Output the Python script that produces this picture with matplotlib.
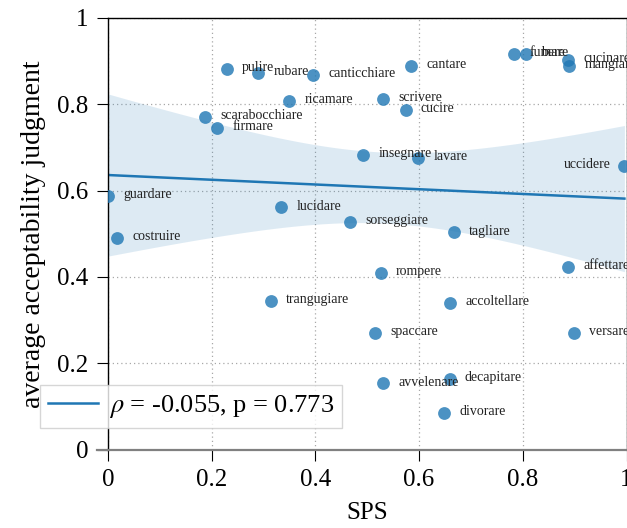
import numpy as np
import matplotlib.pyplot as plt

plt.rcParams['font.family'] = ['Liberation Serif', 'DejaVu Serif']
plt.rcParams['mathtext.fontset'] = 'stix'

# verbs, their SPS score and mean acceptability rating
verbs = ['pulire', 'rubare', 'canticchiare', 'ricamare', 'scarabocchiare',
         'firmare', 'guardare', 'lucidare', 'sorseggiare', 'insegnare',
         'cantare', 'fumare', 'bere', 'cucinare', 'mangiare', 'scrivere',
         'cucire', 'lavare', 'uccidere', 'costruire', 'trangugiare',
         'tagliare', 'rompere', 'affettare', 'accoltellare', 'spaccare',
         'versare', 'avvelenare', 'decapitare', 'divorare']
sps = [0.229, 0.290, 0.396, 0.349, 0.188,
       0.210, 0.000, 0.334, 0.467, 0.492,
       0.584, 0.783, 0.806, 0.887, 0.890, 0.530,
       0.574, 0.598, 0.996, 0.017, 0.314,
       0.667, 0.526, 0.887, 0.660, 0.515,
       0.899, 0.531, 0.659, 0.648]
judgment = [0.882, 0.873, 0.869, 0.807, 0.771,
            0.746, 0.587, 0.561, 0.527, 0.683,
            0.889, 0.917, 0.917, 0.903, 0.889, 0.813,
            0.787, 0.676, 0.658, 0.491, 0.345,
            0.503, 0.410, 0.423, 0.339, 0.271,
            0.271, 0.153, 0.163, 0.085]
left_labels = ['uccidere']

ticks = [0, 0.2, 0.4, 0.6, 0.8, 1]
tick_labels = ['0', '0.2', '0.4', '0.6', '0.8', '1']
stat_label = r'$\rho$ = -0.055, p = 0.773'

color = '#1f77b4'

x = np.array(sps)
y = np.array(judgment)

# least squares fit with confidence band around it
n = len(x)
slope, intercept = np.polyfit(x, y, 1)
xs = np.linspace(x.min(), x.max(), 100)
ys = intercept + slope * xs
resid = y - (intercept + slope * x)
s = np.sqrt(np.sum(resid ** 2) / (n - 2))
sxx = np.sum((x - x.mean()) ** 2)
se = s * np.sqrt(1 / n + (xs - x.mean()) ** 2 / sxx)
t_val = 1.7

fig = plt.figure(figsize=(6.27, 5.28), dpi=100)
ax = fig.add_axes([108 / 627, 78.5 / 528, 518.5 / 627, 431.5 / 528])

ax.fill_between(xs, ys - t_val * se, ys + t_val * se, color=color, alpha=0.15,
                lw=0, zorder=1)
ax.plot(xs, ys, color=color, lw=1.8, zorder=2, label=stat_label)
ax.scatter(x, y, s=85, color=color, alpha=0.8, lw=0, zorder=3)

for v, xi, yi in zip(verbs, x, y):
    if v in left_labels:
        ax.annotate(v, (xi, yi), xytext=(-10, 0.5), textcoords='offset points',
                    ha='right', va='center', fontsize=10, color='#222222',
                    annotation_clip=False, zorder=4)
    else:
        ax.annotate(v, (xi, yi), xytext=(11, 1), textcoords='offset points',
                    ha='left', va='center', fontsize=10, color='#222222',
                    annotation_clip=False, zorder=4)

ax.set_xlim(0, 1)
ax.set_ylim(0, 1)
ax.set_xticks(ticks)
ax.set_xticklabels(tick_labels)
ax.set_yticks(ticks)
ax.set_yticklabels(tick_labels)
ax.tick_params(direction='out', length=8, width=0.8, labelsize=18, pad=6)
ax.grid(True, linestyle=(0, (1, 2.4)), lw=0.9, color='#a8a8a8', zorder=0)
ax.set_axisbelow(True)

for side in ['left', 'top', 'right']:
    ax.spines[side].set_color('black')
    ax.spines[side].set_linewidth(1.0)
ax.spines['bottom'].set_color('#808080')
ax.spines['bottom'].set_linewidth(1.6)
# gray baseline runs out past the left spine
ax.axhline(0, xmin=-0.021, xmax=0, color='#808080', lw=1.6, clip_on=False)

ax.set_xlabel('SPS', fontsize=18, labelpad=8)
ax.set_ylabel('average acceptability judgment', fontsize=20, labelpad=8)

fig.legend(loc='lower left', bbox_to_anchor=(40 / 627, 1 - 427.7 / 528),
           borderaxespad=0, fontsize=19, fancybox=False, edgecolor='#cccccc',
           framealpha=0.8, handlelength=1.9, handletextpad=0.4,
           borderpad=0.3)

fig.savefig('out.png', dpi=100)
